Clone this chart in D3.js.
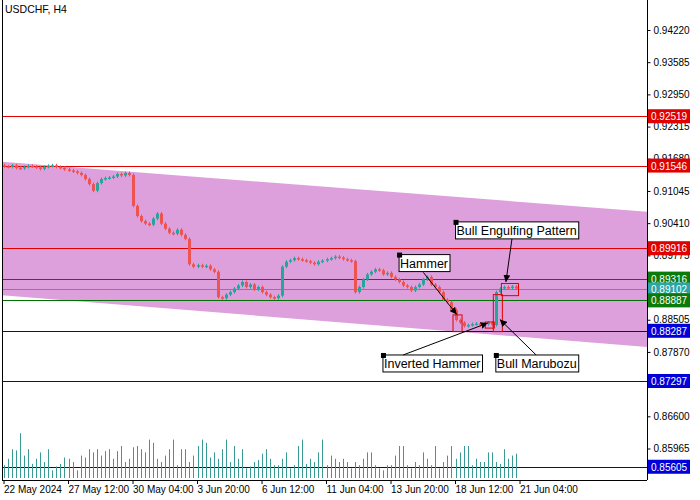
<!DOCTYPE html><html><head><meta charset="utf-8"><script src="https://cdn.jsdelivr.net/npm/d3@7"></script>
<style>body{margin:0;background:#fff}text{font-family:"Liberation Sans",Arial,sans-serif}</style></head><body><svg id="c" width="700" height="500"></svg>
<script>
const title="USDCHF, H4";
const closes=[0.9153,0.9152,0.9155,0.9150,0.9149,0.9152,0.9154,0.9153,0.9151,0.9148,0.9152,0.9154,0.9155,0.9152,0.9150,0.9147,
0.9145,0.9143,0.9140,0.9136,0.9128,0.9118,0.9105,0.9120,0.9128,0.9130,0.9131,0.9133,0.9138,0.9135,0.9140,0.9136,
0.9075,0.9055,0.9045,0.9040,0.9038,0.9050,0.9060,0.9040,0.9030,0.9022,0.9020,0.9028,0.9018,0.9010,0.8960,0.8955,
0.8958,0.8955,0.8957,0.8950,0.8945,0.8895,0.8893,0.8900,0.8905,0.8912,0.8918,0.8925,0.8915,0.8920,0.8910,0.8915,
0.8905,0.8900,0.8895,0.8893,0.8898,0.8955,0.8965,0.8968,0.8972,0.8970,0.8968,0.8966,0.8963,0.8960,0.8965,0.8967,
0.8970,0.8972,0.8975,0.8973,0.8970,0.8968,0.8966,0.8905,0.8915,0.8930,0.8940,0.8945,0.8950,0.8948,0.8940,0.8943,
0.8935,0.8930,0.8925,0.8918,0.8915,0.8908,0.8915,0.8920,0.8930,0.8935,0.8920,0.8915,0.8905,0.8890,0.8885,0.8870,
0.8850,0.8845,0.8838,0.8840,0.8842,0.8843,0.8840,0.8842,0.8845,0.8840,0.8905,0.8912,0.8915,0.8913,0.8916,0.8912];
const firstOpen=0.9155;
const volumes=[20,30,45,43,70,35,45,22,30,40,25,45,12,18,22,32,
30,25,12,35,32,45,40,45,35,42,45,30,42,50,25,30,
48,50,45,40,60,55,30,25,35,45,60,20,45,45,25,35,
50,60,55,32,40,30,45,60,25,50,30,45,15,18,25,28,
38,45,30,20,20,30,40,15,20,50,60,22,30,25,40,60,
20,35,30,25,30,25,15,25,20,30,40,40,20,15,12,20,
20,35,50,50,20,15,25,20,40,30,20,50,15,25,35,50,
30,40,50,50,20,30,25,25,40,40,25,22,45,30,35,38];
const hLines=[{v:0.92519,c:"#e00000",l:"#e00000"},{v:0.91546,c:"#e00000",l:"#e00000"},{v:0.89916,c:"#e00000",l:"#e00000"},
{v:0.89316,c:"#007000",l:"#0a7a0a"},{v:0.89102,c:"#3aa0a0",l:"#2aa6a6"},{v:0.88887,c:"#007000",l:"#0a7a0a"},
{v:0.88287,c:"#0000c8",l:"#0000d8"},{v:0.87297,c:"#0000c8",l:"#0000d8"},{v:0.85605,c:"#0000c8",l:"#0000d8"}];
const yTicks=[0.94220,0.93585,0.92950,0.92315,0.91680,0.91045,0.90410,0.89775,0.89140,0.88505,0.87870,0.87235,0.86600,0.85965];
const xLabels=["22 May 2024","27 May 12:00","30 May 04:00","3 Jun 20:00","6 Jun 12:00","11 Jun 04:00","13 Jun 20:00","18 Jun 12:00","21 Jun 04:00"];
const channel={i0:-0.5,i1:160.5,top:[0.91620,0.90630],bot:[0.88990,0.87960]};
const patterns=[{name:"Hammer",i0:112,i1:113,lo:0.8827,hi:0.8860,lab:[98,0.89790],tip:[112.3,0.8861],from:[104,0.89440]},
{name:"Inverted Hammer",i0:120,i1:121,lo:0.8834,hi:0.8846,lab:[94,0.8781],tip:[120,0.8844],from:[99,0.8781]},
{name:"Bull Marubozu",i0:122,i1:123,lo:0.8827,hi:0.8900,lab:[122,0.8781],tip:[123,0.8851],from:[132,0.8781]},
{name:"Bull Engulfing Pattern",i0:124,i1:127,lo:0.8898,hi:0.8922,lab:[112,0.90435],tip:[124.5,0.8925],from:[126,0.90100]}];

const svg=d3.select("#c");
const L=2,R=647,T=2,B=480;
const y=d3.scaleLinear().domain([0.85344,0.94772]).range([B,T]);
const x=d3.scaleLinear().domain([-0.5,159.5]).range([L,R]);
const vy=d3.scaleLinear().domain([0,100]).range([B-2,B-66]);
svg.append("defs").append("clipPath").attr("id","cp").append("rect").attr("x",L).attr("y",T).attr("width",R-L).attr("height",B-T);
const g=svg.append("g").attr("clip-path","url(#cp)");
g.append("path").attr("fill","#dda0dd").attr("d",`M${x(channel.i0)},${y(channel.top[0])}L${x(channel.i1)},${y(channel.top[1])}L${x(channel.i1)},${y(channel.bot[1])}L${x(channel.i0)},${y(channel.bot[0])}Z`);
hLines.forEach(h=>g.append("line").attr("x1",L).attr("x2",R).attr("y1",Math.round(y(h.v))+0.5).attr("y2",Math.round(y(h.v))+0.5).attr("stroke",h.c).attr("stroke-width",1));
g.selectAll(".v").data(volumes).join("line").attr("x1",(d,i)=>Math.round(x(i))+0.5).attr("x2",(d,i)=>Math.round(x(i))+0.5)
 .attr("y1",vy(0)).attr("y2",d=>vy(d)).attr("stroke","#3a9a94").attr("stroke-width",1);
const candles=closes.map((c,i)=>{const o=i?closes[i-1]:firstOpen;return{i,o,c,h:Math.max(o,c)+0.00030,l:Math.min(o,c)-0.00030};});
candles.forEach(d=>{const col=d.c>=d.o?"#26a69a":"#ef5350";const cx=Math.round(x(d.i))+0.5;
 g.append("line").attr("x1",cx).attr("x2",cx).attr("y1",y(d.h)).attr("y2",y(d.l)).attr("stroke",col);
 const t=y(Math.max(d.o,d.c)),b=y(Math.min(d.o,d.c));
 g.append("rect").attr("x",cx-1.5).attr("width",3).attr("y",t).attr("height",Math.max(1.5,b-t)).attr("fill",col);});
svg.append("defs").append("marker").attr("id","ar").attr("viewBox","0 0 10 10").attr("refX",10).attr("refY",5).attr("markerWidth",7).attr("markerHeight",7).attr("orient","auto")
 .append("path").attr("d","M0,0L10,5L0,10Z").attr("fill","#000");
patterns.forEach(p=>{
 g.append("rect").attr("x",x(p.i0)-2.5).attr("y",y(p.hi)).attr("width",x(p.i1)-x(p.i0)+5).attr("height",y(p.lo)-y(p.hi)).attr("fill","none").attr("stroke","#e00000");
 g.append("line").attr("x1",x(p.from[0])).attr("y1",y(p.from[1])).attr("x2",x(p.tip[0])).attr("y2",y(p.tip[1])).attr("stroke","#000").attr("marker-end","url(#ar)");
 const lx=x(p.lab[0]),ly=y(p.lab[1]);
 const t=g.append("text").attr("x",lx+1).attr("y",ly+13).attr("font-size",12.5).text(p.name);
 const w=t.node().getComputedTextLength();
 g.insert("rect","text").attr("x",lx).attr("y",ly).attr("width",w+3).attr("height",17).attr("fill","#fff").attr("stroke","#000");
 t.raise();
 g.append("rect").attr("x",lx-2).attr("y",ly-2).attr("width",5).attr("height",5).attr("fill","#000");
});
svg.append("line").attr("x1",L+0.5).attr("x2",L+0.5).attr("y1",0).attr("y2",B).attr("stroke","#000");
svg.append("line").attr("x1",R+0.5).attr("x2",R+0.5).attr("y1",0).attr("y2",B).attr("stroke","#000");
svg.append("line").attr("x1",L).attr("x2",R).attr("y1",B+0.5).attr("y2",B+0.5).attr("stroke","#000");
const ax=svg.append("g").attr("transform",`translate(${R+0.5},0)`).call(d3.axisRight(y).tickValues(yTicks).tickFormat(d3.format(".5f")).tickSize(3).tickPadding(3));
ax.select(".domain").remove();ax.selectAll("text").attr("font-size",10).attr("font-family","Liberation Sans, Arial").attr("fill","#000");
hLines.forEach(h=>{svg.append("rect").attr("x",R+1).attr("y",y(h.v)-7).attr("width",42).attr("height",14).attr("fill",h.l);
 svg.append("text").attr("x",R+4).attr("y",y(h.v)+4).attr("font-size",10).attr("fill","#fff").text(h.v.toFixed(5));});
xLabels.forEach((s,k)=>{const xx=x(k*16);svg.append("line").attr("x1",xx).attr("x2",xx).attr("y1",B).attr("y2",B+4).attr("stroke","#000");
 svg.append("text").attr("x",xx).attr("y",B+13).attr("font-size",10).text(s);});
svg.append("text").attr("x",5).attr("y",13).attr("font-size",10.5).text(title);
</script></body></html>
